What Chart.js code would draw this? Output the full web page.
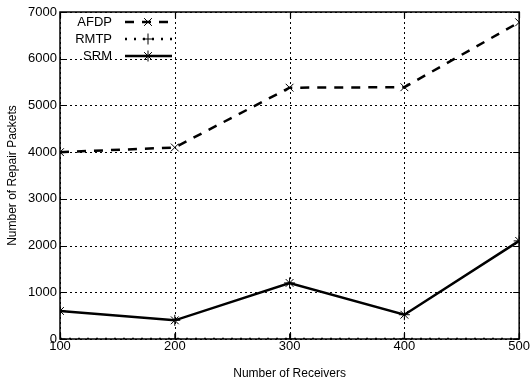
<!DOCTYPE html>
<html>
<head>
<meta charset="utf-8">
<script src="https://cdn.jsdelivr.net/npm/chart.js@4/dist/chart.umd.min.js"></script>
<style>
  body { margin: 0; background: #fff; }
  canvas { display: block; }
</style>
</head>
<body>
<canvas id="myChart" width="530" height="381"></canvas>
<script>
// datos
const receivers = [100, 200, 300, 400, 500];
const afdp = [4000, 4100, 5380, 5390, 6780];
const rmtp = [0, 0, 0, 0, 0];
const srm = [600, 400, 1200, 520, 2100];
const yTicks = [0, 1000, 2000, 3000, 4000, 5000, 6000, 7000];

const fontFam = '"Liberation Sans", Arial, sans-serif';

function toPoints(values) {
    return receivers.map((x, i) => ({ x: x, y: values[i] }));
}

// leyenda dibujada a mano, estilo gnuplot
const gnuLegend = {
    id: 'gnuLegend',
    afterDraw(chart) {
        const ctx = chart.ctx;
        const left = chart.chartArea.left;
        const top = chart.chartArea.top;
        chart.data.datasets.forEach((ds, i) => {
            const y = top + 10 + i * 17;
            ctx.save();
            ctx.fillStyle = '#000';
            ctx.font = '13px ' + fontFam;
            ctx.textAlign = 'right';
            ctx.textBaseline = 'middle';
            ctx.fillText(ds.label, left + 52, y);
            ctx.strokeStyle = ds.borderColor;
            ctx.lineWidth = ds.borderWidth;
            ctx.setLineDash(ds.borderDash || []);
            ctx.beginPath();
            ctx.moveTo(left + 65, y);
            ctx.lineTo(left + 112, y);
            ctx.stroke();
            ctx.setLineDash([]);
            ctx.lineWidth = ds.pointBorderWidth;
            Chart.helpers.drawPoint(ctx, {
                pointStyle: ds.pointStyle,
                radius: ds.pointRadius,
                borderWidth: ds.pointBorderWidth
            }, left + 88, y);
            ctx.restore();
        });
    }
};

// rejilla punteada, marco y marcas hacia dentro
const gnuFrame = {
    id: 'gnuFrame',
    beforeDatasetsDraw(chart) {
        const c = chart.ctx;
        const a = chart.chartArea;
        const xs = chart.scales.x;
        const ys = chart.scales.y;
        c.save();
        c.strokeStyle = '#000';
        c.lineWidth = 1;
        c.setLineDash([2, 3]);
        c.beginPath();
        xs.ticks.forEach(t => {
            const px = Math.round(xs.getPixelForValue(t.value)) + 0.5;
            c.moveTo(px, a.top);
            c.lineTo(px, a.bottom);
        });
        ys.ticks.forEach(t => {
            const py = Math.round(ys.getPixelForValue(t.value)) + 0.5;
            c.moveTo(a.left, py);
            c.lineTo(a.right, py);
        });
        c.stroke();
        c.setLineDash([]);
        c.lineWidth = 1.2;
        c.beginPath();
        xs.ticks.forEach(t => {
            const px = Math.round(xs.getPixelForValue(t.value)) + 0.5;
            c.moveTo(px, a.bottom);
            c.lineTo(px, a.bottom - 6);
            c.moveTo(px, a.top);
            c.lineTo(px, a.top + 6);
        });
        ys.ticks.forEach(t => {
            const py = Math.round(ys.getPixelForValue(t.value)) + 0.5;
            c.moveTo(a.left, py);
            c.lineTo(a.left + 6, py);
            c.moveTo(a.right, py);
            c.lineTo(a.right - 6, py);
        });
        c.stroke();
        c.lineWidth = 1.5;
        c.strokeRect(a.left, a.top, a.right - a.left, a.bottom - a.top);
        c.restore();
    }
};

const ctx = document.getElementById('myChart');

const myChart = new Chart(ctx, {
    type: 'line',
    data: {
        datasets: [{
            label: 'AFDP',
            data: toPoints(afdp),
            borderColor: '#000',
            backgroundColor: '#000',
            borderWidth: 2.5,
            borderDash: [9, 8],
            pointStyle: 'crossRot',
            pointRadius: 5.5,
            pointBorderWidth: 1
        }, {
            label: 'RMTP',
            data: toPoints(rmtp),
            borderColor: '#000',
            backgroundColor: '#000',
            borderWidth: 2.5,
            borderDash: [2, 7],
            pointStyle: 'cross',
            pointRadius: 5.5,
            pointBorderWidth: 1
        }, {
            label: 'SRM',
            data: toPoints(srm),
            borderColor: '#000',
            backgroundColor: '#000',
            borderWidth: 2.5,
            pointStyle: 'star',
            pointRadius: 5.5,
            pointBorderWidth: 1
        }]
    },
    options: {
        responsive: false,
        animation: false,
        devicePixelRatio: 1,
        layout: { padding: { top: 12, right: 9, left: 5, bottom: 0 } },
        plugins: {
            legend: { display: false },
            tooltip: { enabled: false }
        },
        scales: {
            x: {
                type: 'linear',
                min: 100,
                max: 500,
                afterBuildTicks: (scale) => { scale.ticks = receivers.map(v => ({ value: v })); },
                ticks: {
                    color: '#000',
                    font: { family: fontFam, size: 13 },
                    padding: 0,
                    maxRotation: 0,
                    callback: (v) => String(v)
                },
                grid: { display: false, drawTicks: false },
                border: { display: false },
                title: {
                    display: true,
                    text: 'Number of Receivers',
                    color: '#000',
                    font: { family: fontFam, size: 12 },
                    padding: { top: 5, bottom: 0 }
                },
                afterFit: (scale) => { scale.height = 42; }
            },
            y: {
                type: 'linear',
                min: 0,
                max: 7000,
                afterBuildTicks: (scale) => { scale.ticks = yTicks.map(v => ({ value: v })); },
                ticks: {
                    color: '#000',
                    font: { family: fontFam, size: 13 },
                    padding: 3,
                    callback: (v) => String(v)
                },
                grid: { display: false, drawTicks: false },
                border: { display: false },
                title: {
                    display: true,
                    text: 'Number of Repair Packets',
                    color: '#000',
                    font: { family: fontFam, size: 12 },
                    padding: { top: 0, bottom: 4 }
                },
                afterFit: (scale) => { scale.width = 55; }
            }
        }
    },
    plugins: [gnuFrame, gnuLegend]
});
</script>
</body>
</html>
